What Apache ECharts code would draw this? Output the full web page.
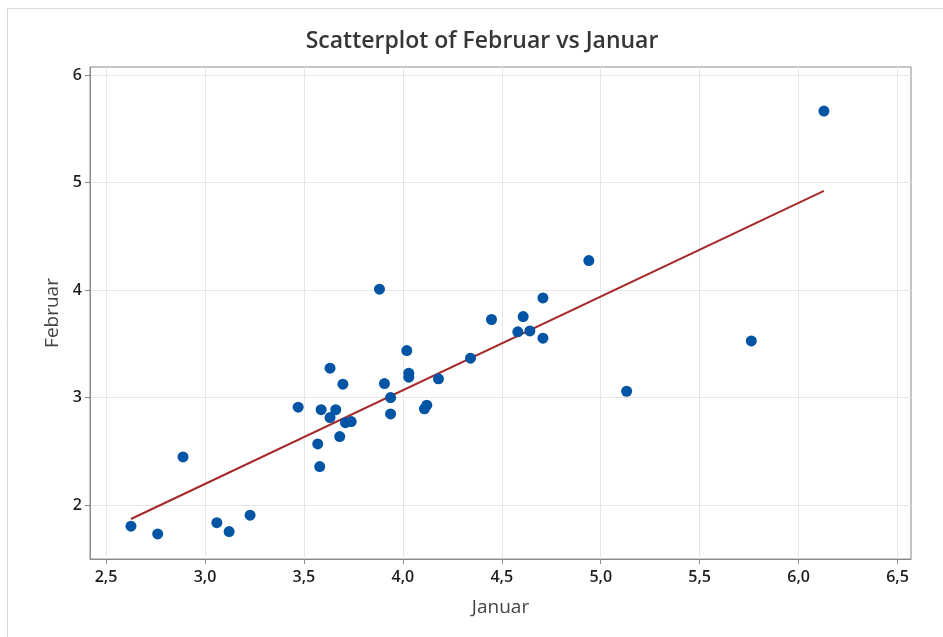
<!DOCTYPE html>
<html>
<head>
<meta charset="utf-8">
<script src="https://cdn.jsdelivr.net/npm/echarts@6/dist/echarts.min.js"></script>
<style>
html,body{margin:0;padding:0;background:#fff;}
#chart{width:943px;height:637px;}
</style>
</head>
<body>
<div id="chart"></div>
<script>
// Data
var januar = [2.626, 2.761, 2.889, 3.060, 3.122, 3.228, 3.471, 3.632, 3.697, 3.587,
              3.661, 3.632, 3.710, 3.739, 3.681, 3.570, 3.580, 3.882, 4.020, 4.030,
              4.030, 3.907, 4.180, 3.938, 3.938, 4.109, 4.121, 4.342, 4.448, 4.581,
              4.608, 4.642, 4.708, 4.708, 4.940, 5.131, 5.761, 6.128];
var februar = [1.805, 1.733, 2.449, 1.838, 1.755, 1.907, 2.912, 3.274, 3.126, 2.889,
               2.889, 2.815, 2.768, 2.778, 2.638, 2.570, 2.359, 4.009, 3.438, 3.228,
               3.191, 3.131, 3.175, 3.001, 2.849, 2.896, 2.930, 3.367, 3.727, 3.612,
               3.754, 3.621, 3.928, 3.553, 4.275, 3.060, 3.528, 5.665];
// Fitted line end points
var fitX = [2.626, 6.128];
var fitY = [1.872, 4.924];
// Tick values
var xTicks = [2.5, 3.0, 3.5, 4.0, 4.5, 5.0, 5.5, 6.0, 6.5];
var yTicks = [2, 3, 4, 5, 6];

var points = januar.map(function (v, i) { return [v, februar[i]]; });
var fitLine = fitX.map(function (v, i) { return [v, fitY[i]]; });

var chart = echarts.init(document.getElementById('chart'), null, {renderer: 'canvas'});
var font = 'Open Sans';
chart.setOption({
  animation: false,
  backgroundColor: '#ffffff',
  title: {
    text: 'Scatterplot of Februar vs Januar',
    left: 477, top: 25, textAlign: 'center',
    textStyle: {fontFamily: font, fontSize: 23, fontWeight: 600, color: '#363636'}
  },
  graphic: [
    {type: 'line', shape: {x1: 7, y1: 8.5, x2: 943, y2: 8.5}, style: {stroke: '#dadada', lineWidth: 1}, silent: true},
    {type: 'line', shape: {x1: 7.5, y1: 8, x2: 7.5, y2: 637}, style: {stroke: '#dadada', lineWidth: 1}, silent: true}
  ],
  grid: {left: 90, top: 67, right: 32, bottom: 78, show: true, borderColor: '#8a8a8a', borderWidth: 1, backgroundColor: '#ffffff'},
  xAxis: {
    type: 'value', min: 2.419, max: 6.568,
    name: 'Januar', nameLocation: 'middle', nameGap: 39,
    nameTextStyle: {fontFamily: font, fontSize: 19, fontWeight: 500, color: '#444444'},
    axisLine: {show: true, lineStyle: {color: '#8a8a8a'}},
    axisTick: {show: true, length: 5, customValues: xTicks, lineStyle: {color: '#8a8a8a'}},
    axisLabel: {customValues: xTicks, margin: 10, fontFamily: font, fontSize: 16, fontWeight: 600, color: '#1e1e1e',
      formatter: function (v) { return v.toFixed(1).replace('.', ','); }},
    splitLine: {show: true, lineStyle: {color: '#e6e6e6', width: 1}}
  },
  yAxis: {
    type: 'value', min: 1.5, max: 6.075,
    name: 'Februar', nameLocation: 'middle', nameGap: 28, nameRotate: 90,
    nameTextStyle: {fontFamily: font, fontSize: 19, fontWeight: 500, color: '#444444'},
    axisLine: {show: true, lineStyle: {color: '#8a8a8a'}},
    axisTick: {show: true, length: 5, customValues: yTicks, lineStyle: {color: '#8a8a8a'}},
    axisLabel: {customValues: yTicks, margin: 8, fontFamily: font, fontSize: 16, fontWeight: 600, color: '#1e1e1e',
      formatter: function (v) { return String(v); }},
    splitLine: {show: true, lineStyle: {color: '#e6e6e6', width: 1}}
  },
  series: [
    {
      type: 'line', data: fitLine, symbol: 'none', silent: true, z: 2,
      lineStyle: {color: '#a52a2a', width: 2}
    },
    {
      type: 'scatter', data: points, symbol: 'circle', symbolSize: 11, z: 3,
      itemStyle: {color: '#0254a5', opacity: 1}
    }
  ]
});
</script>
</body>
</html>
